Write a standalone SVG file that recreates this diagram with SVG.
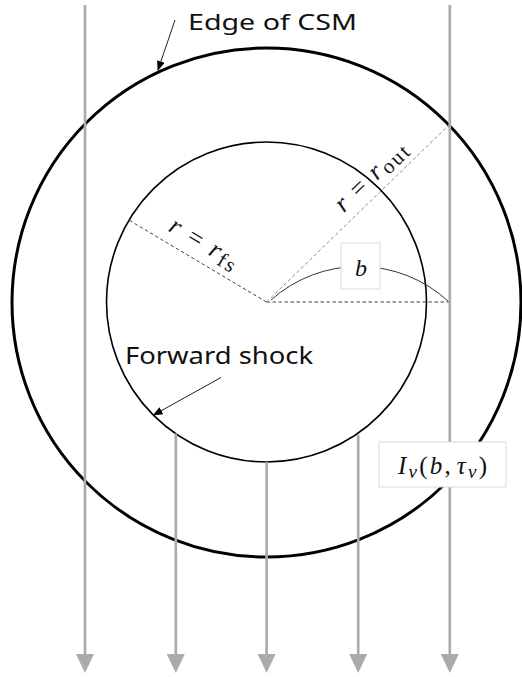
<svg xmlns="http://www.w3.org/2000/svg" width="522" height="677" viewBox="0 0 522 677">
<style>
.ray{stroke:#AEAAAA;stroke-width:2.7;fill:none}
.dash{stroke:#444;stroke-width:1;stroke-dasharray:3.5 2.5;fill:none}
.dashl{stroke:#8a8a8a;stroke-width:1;stroke-dasharray:3.5 2.5;fill:none}
.ann{stroke:#222;stroke-width:1;fill:none}
.lbl{font-family:"Noto Sans","Liberation Sans",sans-serif;fill:#111}
.math{font-family:"Liberation Serif","DejaVu Serif",serif;fill:#111}
.it{font-style:italic}
.box{fill:#fff;stroke:#d9d9d9;stroke-width:1}
</style>
<defs>
<marker id="ray-head" markerUnits="userSpaceOnUse" viewBox="0 0 19 18" markerWidth="19" markerHeight="18" refX="0" refY="9" orient="auto">
<path d="M0,0 L19,9 L0,18 z" fill="#AEAAAA"/>
</marker>
<marker id="ann-head" markerUnits="userSpaceOnUse" viewBox="0 0 10 8" markerWidth="10" markerHeight="8" refX="9" refY="4" orient="auto">
<path d="M0,0 L10,4 L0,8 z" fill="#000"/>
</marker>
</defs>
<rect width="522" height="677" fill="#fff"/>
<g id="csm-edge">
<circle cx="266.5" cy="302.5" r="254.5" fill="none" stroke="#000" stroke-width="3"/>
</g>
<g id="forward-shock">
<circle cx="266.5" cy="302" r="160" fill="none" stroke="#000" stroke-width="1.6"/>
</g>
<g id="geometry">
<line class="dash" x1="266.5" y1="302" x2="449.5" y2="302"/>
<line class="dash" x1="266.5" y1="302" x2="129.5" y2="220.5"/>
<line class="dashl" x1="266.5" y1="302" x2="449.5" y2="124.5"/>
<path d="M271,300 A132,132 0 0 1 448.5,301.5" fill="none" stroke="#333" stroke-width="1"/>
</g>
<g id="connectors">
<line class="ray" x1="85" y1="5" x2="85" y2="654" marker-end="url(#ray-head)"/>
<line class="ray" x1="175.8" y1="433.5" x2="175.8" y2="654" marker-end="url(#ray-head)"/>
<line class="ray" x1="266.6" y1="462" x2="266.6" y2="654" marker-end="url(#ray-head)"/>
<line class="ray" x1="358.2" y1="434.5" x2="358.2" y2="654" marker-end="url(#ray-head)"/>
<line class="ray" x1="449.8" y1="5" x2="449.8" y2="654" marker-end="url(#ray-head)"/>
<line class="ann" x1="175" y1="20" x2="158" y2="70" marker-end="url(#ann-head)"/>
<line class="ann" x1="221" y1="377.5" x2="153.5" y2="415" marker-end="url(#ann-head)"/>
</g>
<g id="label-edge">
<text class="lbl" x="188" y="30" font-size="22" textLength="169" lengthAdjust="spacingAndGlyphs">Edge of CSM</text>
</g>
<g id="label-forward-shock">
<text class="lbl" x="125" y="364" font-size="23" textLength="188" lengthAdjust="spacingAndGlyphs">Forward shock</text>
</g>
<g id="label-rfs">
<text class="math" x="200" y="250" font-size="26" text-anchor="middle" transform="rotate(30.7 200 250)" textLength="76" lengthAdjust="spacing"><tspan class="it">r</tspan> = <tspan class="it">r</tspan><tspan dy="4" font-size="21">fs</tspan></text>
</g>
<g id="label-rout">
<text class="math" x="376" y="182" font-size="26" text-anchor="middle" transform="rotate(-44 376 182)" textLength="90" lengthAdjust="spacing"><tspan class="it">r</tspan> = <tspan class="it">r</tspan><tspan dy="4" font-size="21">out</tspan></text>
</g>
<g id="label-b">
<rect class="box" x="341" y="243" width="39" height="46"/>
<text class="math it" x="361" y="276" font-size="24" text-anchor="middle">b</text>
</g>
<g id="label-intensity">
<rect class="box" x="379" y="442" width="127" height="45"/>
<text class="math" x="398" y="474" font-size="25" textLength="89" lengthAdjust="spacing"><tspan class="it">I</tspan><tspan class="it" dy="4" font-size="19">ν</tspan><tspan dy="-4">(</tspan><tspan class="it">b</tspan>,<tspan class="it" dx="4">τ</tspan><tspan class="it" dy="4" font-size="19">ν</tspan><tspan dy="-4">)</tspan></text>
</g>
</svg>
